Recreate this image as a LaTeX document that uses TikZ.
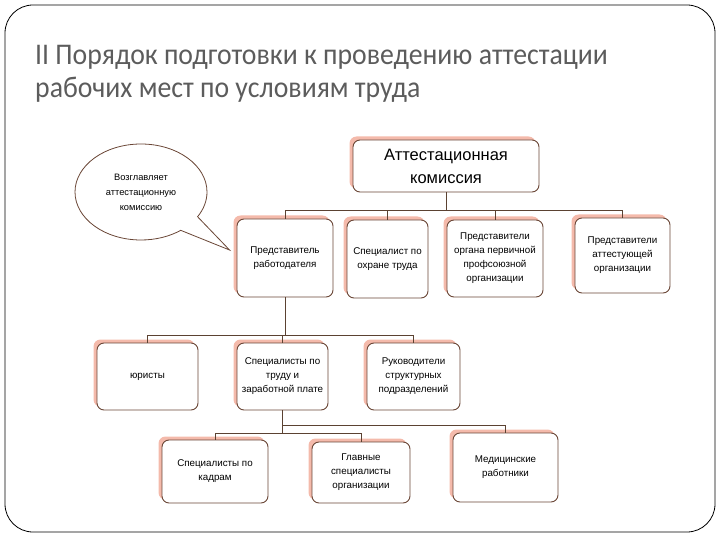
\documentclass[tikz,border=0pt]{standalone}
\usepackage{fontspec}
\setmainfont{Liberation Sans}
\newfontfamily\titlefont{Carlito}
\usetikzlibrary{shapes.callouts,shadows,calc}
\definecolor{boxbrown}{HTML}{6A4636}
\definecolor{shadowpink}{HTML}{F2AE9C}
\definecolor{linebrown}{HTML}{5B4232}
\definecolor{titlegray}{HTML}{5C5C5C}
\begin{document}
\begin{tikzpicture}[x=1pt,y=-1pt,
  orgbox/.style={draw=boxbrown, line width=0.9pt, rounded corners=7pt, fill=white,
    align=center, inner sep=2pt, font=\fontsize{9.8}{14}\selectfont,
    drop shadow={shadow xshift=-3.5pt, shadow yshift=3.5pt, fill=shadowpink, opacity=0.85}},
  conn/.style={draw=linebrown, line width=0.7pt},
  ttl/.style={anchor=base west, text=titlegray, font=\titlefont\fontsize{30}{36}\selectfont,
    inner sep=0pt, xscale=0.925, transform shape}
]
\useasboundingbox (0,0) rectangle (720,540);
\draw[line width=0.8pt, rounded corners=28pt] (5,5) rectangle (715,532);

\node[ttl] (t1) at (35,65) {II Порядок подготовки к проведению аттестации};
\node[ttl] (t2) at (35,98) {рабочих мест по условиям труда};

\node[orgbox, minimum width=186pt, minimum height=52pt, font=\fontsize{16.5}{23}\selectfont] (tc) at (446,166) {Аттестационная\\комиссия};

\node[orgbox, minimum width=96pt, minimum height=78pt] (A) at (285,258) {Представитель\\работодателя};
\node[orgbox, minimum width=81pt, minimum height=78pt] (B) at (387.5,259) {Специалист по\\охране труда};
\node[orgbox, minimum width=96pt, minimum height=77pt] (C) at (495,258.5) {Представители\\органа первичной\\профсоюзной\\организации};
\node[orgbox, minimum width=95pt, minimum height=75pt] (D) at (622.5,255.5) {Представители\\аттестующей\\организации};

\node[orgbox, minimum width=101pt, minimum height=67pt] (E) at (147.5,376.5) {юристы};
\node[orgbox, minimum width=91pt, minimum height=67pt] (F) at (282.5,376.5) {Специалисты по\\труду и\\заработной плате};
\node[orgbox, minimum width=93pt, minimum height=67pt] (G) at (413.5,376.5) {Руководители\\структурных\\подразделений};

\node[orgbox, minimum width=106pt, minimum height=63pt] (H) at (215,471.5) {Специалисты по\\кадрам};
\node[orgbox, minimum width=98pt, minimum height=61pt] (I) at (361,472.5) {Главные\\специалисты\\организации};
\node[orgbox, minimum width=105pt, minimum height=69pt] (J) at (505.5,467.5) {Медицинские\\работники};

\node[ellipse callout, draw=boxbrown, line width=0.8pt, fill=white,
  minimum width=132pt, minimum height=96pt, align=center,
  font=\fontsize{9.3}{15}\selectfont, callout pointer arc=22,
  callout absolute pointer={([xshift=-7pt,yshift=8pt]A.west)}] (bub) at (141,192)
  {Возглавляет\\аттестационную\\комиссию};

\coordinate (bus1) at (0,210);
\coordinate (bus2) at (0,335);
\coordinate (bus3) at (0,425);
\coordinate (bus4) at (0,433);

\draw[conn] (tc.south) -- (tc.south |- bus1);
\draw[conn] (A.north) -- (A.north |- bus1) -| (D.north);
\draw[conn] (B.north) -- (B.north |- bus1);
\draw[conn] (C.north) -- (C.north |- bus1);

\draw[conn] (A.south) -- (A.south |- bus2);
\draw[conn] (E.north) -- (E.north |- bus2) -| (G.north);
\draw[conn] (F.north) -- (F.north |- bus2);

\draw[conn] (F.south) -- (F.south |- bus4);
\draw[conn] (F.south |- bus3) -| (J.north);
\draw[conn] (H.north) -- (H.north |- bus4) -| (I.north);
\end{tikzpicture}
\end{document}
